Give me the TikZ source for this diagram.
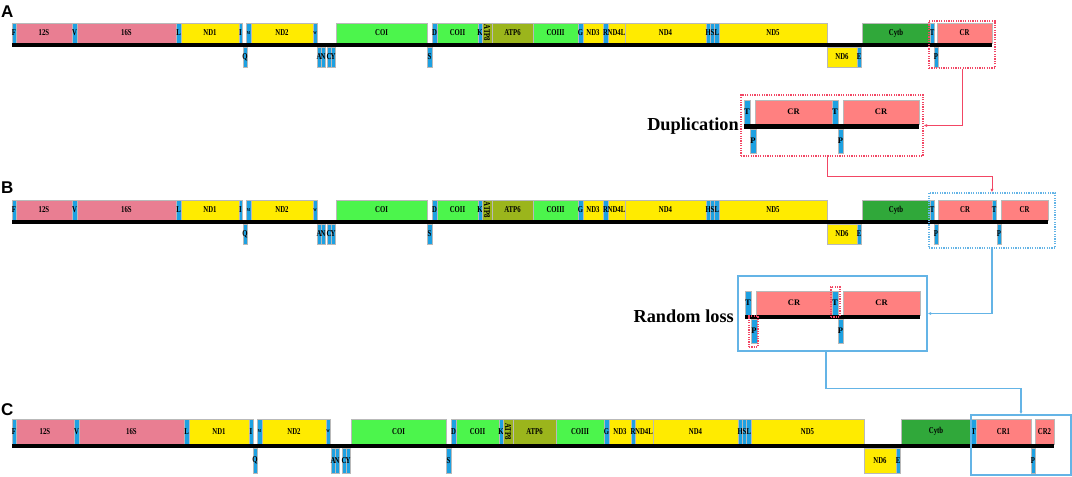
\documentclass[tikz,border=0pt]{standalone}
\usepackage{fontspec}
\setmainfont{Liberation Serif}
\newfontfamily\genefont[FakeStretch=0.75]{Liberation Serif}
\newfontfamily\panelfont{Liberation Sans}
\usetikzlibrary{arrows.meta}

\definecolor{trnablue}{RGB}{29,161,226}
\definecolor{rrnapink}{RGB}{233,126,146}
\definecolor{ndyellow}{RGB}{255,235,0}
\definecolor{cogreen}{RGB}{76,245,76}
\definecolor{atpolive}{RGB}{155,181,28}
\definecolor{cytbgreen}{RGB}{48,168,58}
\definecolor{crsalmon}{RGB}{255,128,128}
\definecolor{dupred}{RGB}{242,70,100}
\definecolor{lossblue}{RGB}{100,180,230}

\newcommand\tinylab{\fontsize{4.5}{4.5}\selectfont}

% x1/x2/kind/label, rows A and B share the same order
\newcommand\abUp{12/16/trna/F, 16/72/rrna/12S, 72/77/trna/V, 77/176/rrna/16S, 176/181/trna/L,
  181/239/nd/ND1, 239/242/trna/I, 246/251/trna/\tinylab M, 251/313/nd/ND2, 313/317/trna/\tinylab W,
  336/427/co/COI, 432/437/trna/D, 437/478/co/COII, 478/482/trna/K, 482/492/atp/, 492/533/atp/ATP6,
  533/578/co/COIII, 578/583/trna/G, 583/603/nd/ND3, 603/608/trna/R, 608/625/nd/ND4L, 625/706/nd/ND4,
  706/710.3/trna/H, 710.3/714.7/trna/S, 714.7/719/trna/L, 719/827/nd/ND5, 862/930/cytb/Cytb, 930/934/trna/T}
\newcommand\abDown{243/247/trna/Q, 317/321/trna/A, 321/325/trna/N, 327/331/trna/C, 331/335/trna/Y,
  427/432/trna/S, 827/857/nd/ND6, 857/861/trna/E, 934/938/trna/P}
\newcommand\cUp{12/16/trna/F, 16/74/rrna/12S, 74/79/trna/V, 79/184/rrna/16S, 184/189/trna/L,
  189/249/nd/ND1, 249/253/trna/I, 257/262/trna/\tinylab M, 262/326/nd/ND2, 326/330/trna/\tinylab W,
  351/446/co/COI, 451/456/trna/D, 456/499/co/COII, 499/503/trna/K, 503/513/atp/, 513/556/atp/ATP6,
  556/604/co/COIII, 604/609/trna/G, 609/631/nd/ND3, 631/635/trna/R, 635/653/nd/ND4L, 653/738/nd/ND4,
  738/742.3/trna/H, 742.3/746.7/trna/S, 746.7/751/trna/L, 751/864/nd/ND5, 901/971/cytb/Cytb,
  971/976/trna/T, 976/1031/cr/CR1, 1035/1054/cr/CR2}
\newcommand\cDown{253/257/trna/Q, 331/335/trna/A, 335/339/trna/N, 342/346/trna/C, 346/350/trna/Y,
  446/451/trna/S, 864/896/nd/ND6, 896/900/trna/E, 1031/1035/trna/P}

% #1 list, #2 top, #3 bottom, #4 name prefix, #5 label style
\newcommand\genes[5]{%
  \foreach \xa/\xb/\kind/\txt [count=\i] in #1 {
    \path[\kind] (\xa,#2) rectangle (\xb,#3);
    \node[#5] (#4\i) at ({(\xa+\xb)/2},{(#2+#3)/2}) {\txt};
  }}

\begin{document}
\begin{tikzpicture}[x=1pt, y=-1pt,
  gene/.style={draw=gray!55, line width=0.5pt},
  trna/.style={gene, fill=trnablue},
  rrna/.style={gene, fill=rrnapink},
  nd/.style={gene, fill=ndyellow},
  co/.style={gene, fill=cogreen},
  atp/.style={gene, fill=atpolive},
  cytb/.style={gene, fill=cytbgreen},
  cr/.style={gene, fill=crsalmon},
  glab/.style={font=\genefont\bfseries\fontsize{9}{9}\selectfont, inner sep=0pt},
  inlab/.style={font=\bfseries\fontsize{8.5}{8.5}\selectfont, inner sep=0pt},
  panel/.style={font=\panelfont\bfseries\fontsize{17}{17}\selectfont, inner sep=0pt, anchor=base west},
  steplab/.style={font=\bfseries\fontsize{18.3}{18.3}\selectfont, inner sep=0pt, anchor=base east},
  redframe/.style={draw, color=dupred, line width=1.1pt, dash pattern=on 1.2pt off 1.2pt, inner sep=0pt},
  blueframe/.style={draw, color=lossblue, line width=1.1pt, dash pattern=on 1.2pt off 1.2pt, inner sep=0pt},
  lossframe/.style={draw, color=lossblue, line width=1.1pt, inner sep=0pt},
  dupline/.style={dupred, line width=1pt},
  lossline/.style={lossblue, line width=1.2pt},
  >={Latex[length=3.5pt,width=3pt]}]
  \useasboundingbox (0,0) rectangle (1072,477);

  % A
  \node[panel] (pA) at (1,17) {A};
  \genes{\abUp}{23}{43}{au}{glab}
  \genes{\abDown}{47}{67}{ad}{glab}
  \genes{{937/992/cr/CR}}{23}{43}{ax}{glab}
  \node[glab, rotate=-90] (a8) at (487,33) {ATP8};
  \fill (12,43) rectangle (992,47);

  % B
  \node[panel] (pB) at (1,193) {B};
  \genes{\abUp}{200}{220}{bu}{glab}
  \genes{\abDown}{224}{244}{bd}{glab}
  \genes{{938/992/cr/CR, 992/996/trna/T, 1001/1048/cr/CR}}{200}{220}{bx}{glab}
  \genes{{997/1001/trna/P}}{224}{244}{by}{glab}
  \node[glab, rotate=-90] (b8) at (487,210) {ATP8};
  \fill (12,220) rectangle (1048,224);

  % C
  \node[panel] (pC) at (1,415) {C};
  \genes{\cUp}{419}{444}{cu}{glab}
  \genes{\cDown}{448}{473}{cd}{glab}
  \node[glab, rotate=-90] (c8) at (508,431.5) {ATP8};
  \fill (12,444) rectangle (1054,448);

  % duplication
  \node[steplab] (duptext) at (739,130) {Duplication};
  \genes{{744/750/trna/T, 755/832/cr/CR, 832/838/trna/T, 843/919/cr/CR}}{100}{124}{du}{inlab}
  \genes{{750/756/trna/P, 838/843/trna/P}}{129}{153}{dd}{inlab}
  \fill (744,124) rectangle (919,129);

  % random loss
  \node[steplab] (losstext) at (734,322) {Random loss};
  \genes{{745/751/trna/T, 756/832/cr/CR, 832/838/trna/T, 843/920/cr/CR}}{291}{315}{lu}{inlab}
  \genes{{751/757/trna/P, 838/843/trna/P}}{319}{343}{ld}{inlab}
  \fill (745,315) rectangle (920,319);
  \node[redframe, minimum width=9, minimum height=30] (lostT) at (835.5,302) {};
  \node[redframe, minimum width=9, minimum height=31] (lostP) at (753.5,331.5) {};

  % frames
  \node[redframe, minimum width=66, minimum height=47] (aframe) at (962,44.5) {};
  \node[redframe, minimum width=182, minimum height=61] (dupframe) at (832,125.5) {};
  \node[blueframe, minimum width=126, minimum height=55] (bframe) at (992,220.5) {};
  \node[lossframe, minimum width=189, minimum height=75] (lossbox) at (832.5,313.5) {};
  \node[lossframe, minimum width=100, minimum height=60] (cframe) at (1021,445) {};

  \draw[dupline,->] (aframe.south) |- (dupframe.east);
  \draw[dupline,->] ([xshift=-5pt]dupframe.south) -- ++(0,20) -| (bframe.north);
  \draw[lossline,->] (bframe.south) |- (lossbox.east);
  \draw[lossline,->] ([xshift=-6.5pt]lossbox.south) -- ++(0,37) -| (cframe.north);
\end{tikzpicture}
\end{document}
